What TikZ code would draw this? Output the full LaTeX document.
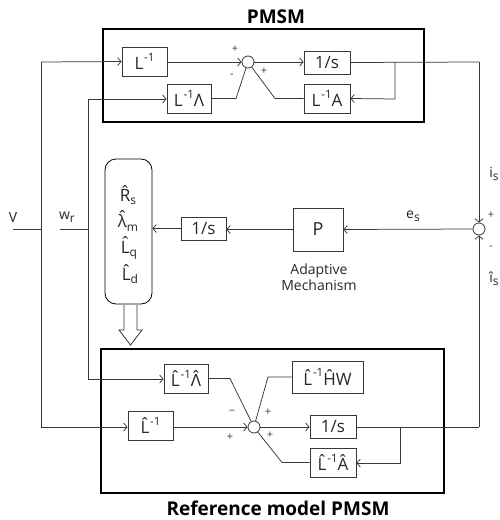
\documentclass[tikz,border=0pt]{standalone}
\usepackage{fontspec}
\setmainfont{Open Sans}
\usetikzlibrary{arrows.meta}
\newcommand\sps[1]{\kern0.8pt\raisebox{0.95ex}{\fontsize{11.5}{11.5}\selectfont #1}}
\newcommand\sbs[1]{\raisebox{-0.35ex}{\fontsize{12}{12}\selectfont #1}}
\newcommand\hc[1]{\accent"02C6 #1}
\definecolor{wirec}{RGB}{55,55,55}
\definecolor{signc}{RGB}{95,30,80}
\tikzset{
  blk/.style={draw=wirec, line width=0.8pt, inner sep=0pt, text=black!85, font=\fontsize{17}{17}\selectfont},
  wire/.style={draw=wirec, line width=0.75pt},
  arr/.style={wire, -{Straight Barb[length=3.5pt,width=8pt]}},
  sumc/.style={circle, draw=wirec, line width=0.8pt, minimum size=12pt, inner sep=0pt},
  frame/.style={draw=black, line width=2.6pt},
  ttl/.style={font=\bfseries\fontsize{19}{19}\selectfont},
  lbl/.style={font=\fontsize{14}{14}\selectfont, text=black!85},
  sgn/.style={font=\fontsize{11}{11}\selectfont, text=signc, inner sep=0pt},
  est/.style={font=\fontsize{17}{17}\selectfont, text=black!85, inner sep=0pt}
}
\begin{document}
\begin{tikzpicture}[x=1pt,y=-1pt]
\useasboundingbox (0,0) rectangle (500,520);
% ---------- top PMSM ----------
\draw[frame] (103,29) rectangle (424,122);
\node[ttl] (t1) at (276,17) {PMSM};
\node[blk, minimum width=45pt, minimum height=29pt] (L1) at (144.5,61.5) {L\sps{-1}};
\node[blk, minimum width=44pt, minimum height=29pt] (LL) at (189,98.5) {L\sps{-1}Λ};
\node[sumc] (S1) at (248,62) {};
\node[blk, minimum width=46pt, minimum height=23pt] (I1) at (327,62.5) {1/s};
\node[blk, minimum width=46pt, minimum height=29pt] (LA) at (327,98.5) {L\sps{-1}A};
\node[sgn] (p1) at (235,49) {+};
\node[sgn] (m1) at (232,76) {-};
\node[sgn] (p2) at (264,71) {+};
% ---------- bottom reference model ----------
\draw[frame] (101,349) rectangle (444,493);
\node[ttl] (t2) at (278,508) {Reference model PMSM};
\node[blk, minimum width=44pt, minimum height=29pt] (Lb2) at (186,378.5) {\hc{L}\sps{-1}\hc{Λ}};
\node[blk, minimum width=71pt, minimum height=32pt] (HW) at (327.5,377) {\hc{L}\sps{-1}\hc{H}W};
\node[blk, minimum width=45pt, minimum height=29pt] (Lb1) at (150.5,425.5) {\hc{L}\sps{-1}};
\node[sumc] (S3) at (254,427) {};
\node[blk, minimum width=46pt, minimum height=23pt] (I3) at (333,426.5) {1/s};
\node[blk, minimum width=46pt, minimum height=29pt] (LbA) at (333,462.5) {\hc{L}\sps{-1}\hc{A}};
\node[sgn] (m3) at (232,412) {\textminus};
\node[sgn] (p3) at (230,437) {+};
\node[sgn] (p4) at (268,412) {+};
\node[sgn] (p5) at (270,435) {+};
% ---------- middle ----------
\node[draw=black, line width=0.8pt, rounded corners=11pt, minimum width=47pt, minimum height=145pt] (RB) at (128.5,231.5) {};
\node[est] (e1) at (128,195) {\hc{R}\sbs{s}};
\node[est] (e2) at (128,221) {\hc{λ}\sbs{m}};
\node[est] (e3) at (129,248) {\hc{L}\sbs{q}};
\node[est] (e4) at (130,274) {\hc{L}\sbs{d}};
\node[blk, minimum width=45pt, minimum height=23pt] (I2) at (203.5,228.5) {1/s};
\node[blk, minimum width=50pt, minimum height=43pt, font=\fontsize{18}{18}\selectfont] (P) at (318,229.5) {P};
\node[sumc] (S2) at (479,229) {};
\node[lbl, align=center, font=\fontsize{14}{16}\selectfont] (am) at (319,277) {Adaptive\\Mechanism};
\node[lbl] (V) at (13,217) {V};
\node[lbl] (wr) at (67,217) {w\sbs{r}};
\node[lbl] (es) at (413,216) {e\sbs{s}};
\node[lbl] (is) at (494,174) {i\sbs{s}};
\node[sgn] (p6) at (491,215) {+};
\node[sgn] (m6) at (491,248) {-};
\node[lbl] (his) at (494,279) {î\sbs{s}};
% hollow arrow
\draw[draw=black!80, line width=0.8pt, fill=white] (124,305) -- (124,330) -- (119,330) -- (130.5,345) -- (142,330) -- (137,330) -- (137,305);
% coordinates
\coordinate (vin) at (13,229);
\coordinate (vj) at (41,229);
\coordinate (vt) at (41,62);
\coordinate (vb) at (41,427);
\coordinate (win) at (60,229);
\coordinate (wj) at (88,229);
\coordinate (wt) at (88,99);
\coordinate (wb) at (88,379);
\coordinate (rt) at (479,62);
\coordinate (rb) at (479,427);
\coordinate (fb1) at (395,62);
\coordinate (fb1b) at (395,99);
\coordinate (fb3) at (400,427);
\coordinate (fb3b) at (400,463);
% ---------- wires ----------
\draw[wire] (vin) -- (vj);
\draw[wire] (vt) -- (vb);
\draw[wire] (win) -- (wj);
\draw[wire] (wt) -- (wb);
\draw[arr] (vt) -- (L1.west);
\draw[arr] (wt) -- (wt -| LL.west);
\draw[arr] (L1.east |- S1) -- (S1.west);
\draw[arr] (S1.east) -- (S1 -| I1.west);
\draw[wire] (LL.east) -- (236,98.5) -- (S1.-108);
\draw[wire] (LA.west) -- (275,98.5) -- (S1.-54);
\draw[wire] (I1.east) -- (rt);
\draw[arr] (rt) -- (S2.north);
\draw[arr] (fb1) -- (fb1b) -- (LA.east);
\draw[arr] (S2.west) -- (P.east);
\draw[arr] (P.west) -- (P.west -| I2.east);
\draw[arr] (I2.west) -- (I2.west -| RB.east);
\draw[arr] (vb) -- (vb -| Lb1.west);
\draw[arr] (wb) -- (wb -| Lb2.west);
\draw[arr] (Lb1.east |- S3) -- (S3.west);
\draw[wire] (Lb2.east) -- (230,378.5) -- (S3.117);
\draw[wire] (HW.west) -- (268,377) -- (S3.75);
\draw[wire] (LbA.west) -- (282,462.5) -- (S3.-53);
\draw[arr] (S3.east) -- (S3 -| I3.west);
\draw[wire] (I3.east |- S3) -- (rb);
\draw[arr] (rb) -- (S2.south);
\draw[arr] (fb3) -- (fb3b) -- (fb3b -| LbA.east);
\end{tikzpicture}
\end{document}
